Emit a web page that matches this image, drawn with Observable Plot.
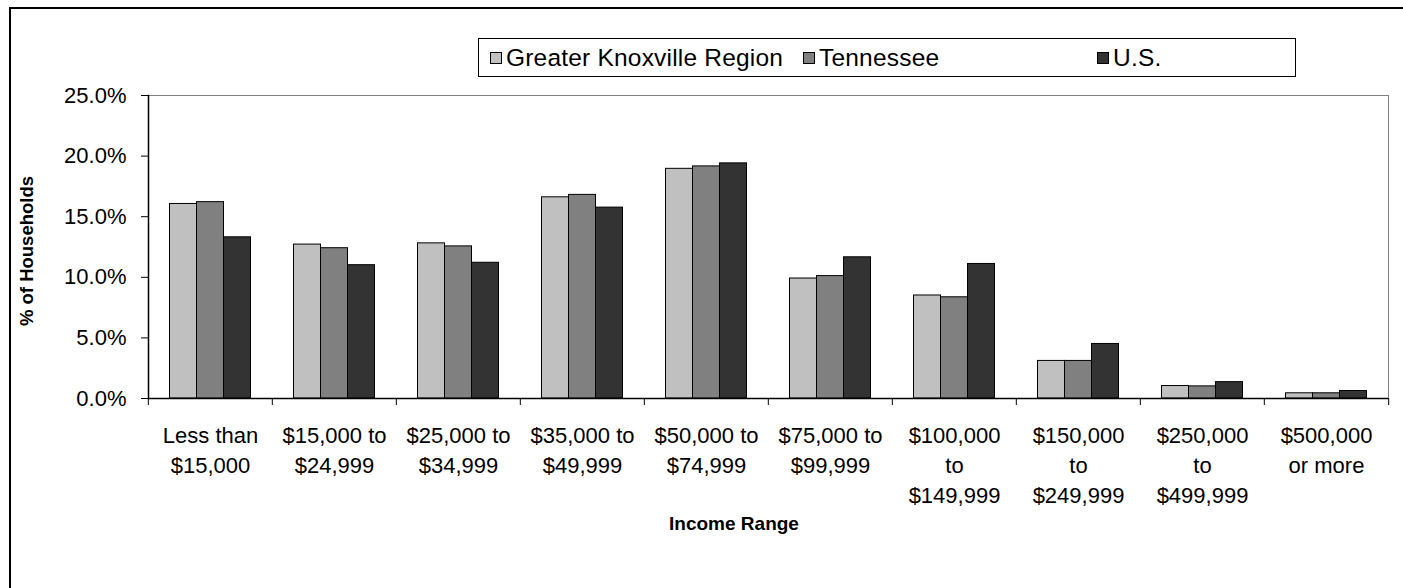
<!DOCTYPE html>
<html><head><meta charset="utf-8">
<script src="https://cdn.jsdelivr.net/npm/d3@7"></script>
<script src="https://cdn.jsdelivr.net/npm/@observablehq/plot@0.6"></script>
<style>
body{margin:0;background:#fff;}
#wrap{position:relative;width:1403px;height:588px;overflow:hidden;background:#fff;font-family:"Liberation Sans",Arial,sans-serif;color:#000;}
#wrap svg{position:absolute;left:0;top:0;}
#outer{position:absolute;left:9px;top:7px;width:1500px;height:700px;border-left:2px solid #000;border-top:2px solid #000;}
#legend{position:absolute;left:478px;top:38px;width:816px;height:37px;border:1px solid #000;background:#fff;}
.item{position:absolute;top:0;height:37px;display:flex;align-items:center;font-size:24.5px;white-space:nowrap;letter-spacing:0.2px;}
.sw{width:10px;height:10px;border:1px solid #000;margin-right:4px;}
#ytitle{position:absolute;left:27px;top:251px;transform:translate(-50%,-50%) rotate(-90deg);font-weight:bold;font-size:18.5px;white-space:nowrap;}
#xtitle{position:absolute;left:734px;top:524px;transform:translate(-50%,-50%);font-weight:bold;font-size:19px;white-space:nowrap;}
</style></head>
<body>
<div id="wrap">
<div id="outer"></div>
<div id="legend"></div>
<div id="ytitle">% of Households</div>
<div id="xtitle">Income Range</div>
</div>
<script>
const categories = [
  "Less than\n$15,000", "$15,000 to\n$24,999", "$25,000 to\n$34,999", "$35,000 to\n$49,999",
  "$50,000 to\n$74,999", "$75,000 to\n$99,999", "$100,000\nto\n$149,999", "$150,000\nto\n$249,999",
  "$250,000\nto\n$499,999", "$500,000\nor more"
];
const seriesNames = ["Greater Knoxville Region", "Tennessee", "U.S."];
const seriesColors = ["#c0c0c0", "#808080", "#333333"];
const knoxville = [16.05, 12.7, 12.8, 16.6, 18.95, 9.9, 8.5, 3.1, 1.03, 0.43];
const tennessee = [16.2, 12.4, 12.55, 16.8, 19.15, 10.1, 8.35, 3.1, 1.0, 0.43];
const us = [13.3, 11.0, 11.2, 15.75, 19.4, 11.65, 11.1, 4.5, 1.35, 0.62];
const yTicks = [0, 5, 10, 15, 20, 25];

const seriesValues = [knoxville, tennessee, us];
const rows = categories.flatMap((c, i) => seriesNames.map((s, j) => ({category: c, series: s, value: seriesValues[j][i]})));

const W = 1403, H = 588, mL = 146.5, mR = 13, mT = 95, mB = 190;
const step = (W - mL - mR) / categories.length;
const font = '"Liberation Sans", Arial, sans-serif';

const chart = Plot.plot({
  width: W, height: H,
  marginLeft: mL, marginRight: mR, marginTop: mT, marginBottom: mB,
  style: {fontFamily: font, fontSize: "22px", color: "#000", background: "transparent", overflow: "visible"},
  fx: {domain: categories, padding: 0, axis: null},
  x: {domain: seriesNames, paddingInner: 0, paddingOuter: 0.75, axis: null},
  y: {domain: [0, 25], axis: null},
  color: {domain: seriesNames, range: seriesColors},
  marks: [
    Plot.frame({facet: "super", stroke: "#808080", strokeWidth: 1}),
    Plot.barY(rows, {fx: "category", x: "series", y: "value", fill: "series", stroke: "#000", strokeWidth: 1}),
    Plot.ruleY([0], {stroke: "#000", strokeWidth: 1.5}),
    Plot.frame({facet: "super", anchor: "left", stroke: "#000", strokeWidth: 1.5}),
    Plot.axisY({ticks: yTicks, tickSize: 7, tickPadding: 15, tickFormat: d => d.toFixed(1) + "%", fontSize: 22, label: null, stroke: "#000"}),
    Plot.axisFx({anchor: "bottom", tickSize: 0, tickPadding: 23, lineHeight: 30 / 22, fontSize: 22, label: null}),
    Plot.axisFx({anchor: "bottom", tickSize: 7, tickFormat: () => "", dx: -step / 2, label: null, stroke: "#000"}),
    Plot.axisFx({anchor: "bottom", ticks: [categories[categories.length - 1]], tickSize: 7, tickFormat: () => "", dx: step / 2, label: null, stroke: "#000"})
  ]
});
document.getElementById("wrap").insertBefore(chart, document.getElementById("outer"));

const legend = document.getElementById("legend");
const itemLeft = [11, 324, 618];
seriesNames.forEach((s, i) => {
  const it = document.createElement("div");
  it.className = "item";
  it.style.left = itemLeft[i] + "px";
  const sw = document.createElement("span");
  sw.className = "sw";
  sw.style.background = seriesColors[i];
  it.appendChild(sw);
  it.appendChild(document.createTextNode(s));
  legend.appendChild(it);
});
</script>
</body></html>
